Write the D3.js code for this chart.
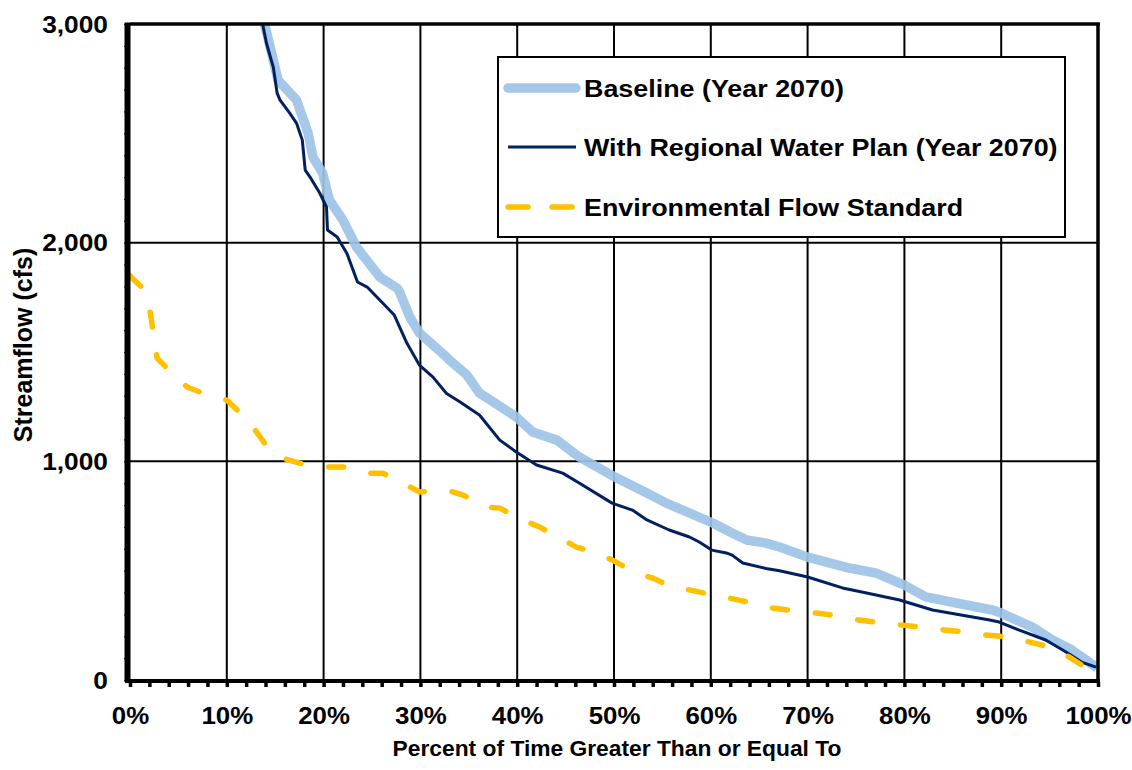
<!DOCTYPE html>
<html>
<head>
<meta charset="utf-8">
<script src="https://cdn.jsdelivr.net/npm/d3@7"></script>
<style>
  body { margin: 0; background: #fff; }
  text { font-family: "Liberation Sans", Arial, sans-serif; font-weight: bold; fill: #000; }
</style>
</head>
<body>
<svg id="chart" width="1132" height="770"></svg>
<script>
// Flow duration curves: percent of time flow is equalled or exceeded vs. streamflow (cfs)
const baselinePct = [13.9, 15.3, 17.2, 18.4, 18.9, 19.9, 20.6, 22.0, 23.4, 25.8, 27.6, 27.9, 28.9, 29.9, 32.7, 33.0, 34.8, 36.1, 39.9, 41.6, 44.1, 46.4, 50.1, 53.4, 55.4, 60.2, 62.2, 63.7, 65.7, 67.1, 70.0, 74.3, 77.1, 80.0, 82.2, 86.4, 89.1, 90.0, 93.2, 95.3, 97.3, 98.8, 99.9];
const baselineCfs = [3000, 2743, 2652, 2501, 2391, 2318, 2195, 2103, 1980, 1843, 1792, 1770, 1660, 1587, 1477, 1463, 1395, 1312, 1203, 1134, 1097, 1020, 928, 855, 809, 718, 672, 640, 626, 608, 562, 512, 489, 434, 380, 343, 320, 306, 242, 183, 137, 91, 55];

const planPct = [13.7, 14.1, 14.8, 15.2, 15.5, 16.5, 17.2, 17.8, 18.1, 18.6, 19.6, 20.3, 20.4, 21.4, 22.4, 23.5, 24.5, 26.5, 27.3, 28.6, 29.9, 31.3, 32.7, 34.1, 36.1, 38.2, 39.9, 42.0, 44.7, 46.4, 49.8, 51.9, 53.4, 55.7, 57.8, 58.8, 60.1, 61.6, 62.2, 63.3, 65.7, 67.1, 70.0, 73.6, 76.1, 79.5, 82.9, 88.8, 89.8, 91.8, 94.6, 96.7, 98.3, 99.8];
const planCfs = [3000, 2912, 2803, 2684, 2652, 2592, 2547, 2469, 2332, 2300, 2227, 2163, 2058, 2026, 1952, 1820, 1797, 1706, 1669, 1541, 1440, 1385, 1310, 1271, 1212, 1097, 1043, 983, 946, 901, 809, 777, 732, 686, 654, 631, 594, 581, 571, 535, 510, 500, 471, 421, 398, 366, 320, 274, 265, 229, 183, 128, 82, 59];

const envPct = [0, 0.2, 1.2, 2.1, 2.4, 2.8, 3.8, 5.9, 7.5, 10.0, 11.4, 12.7, 13.9, 15.7, 17.5, 19.9, 22.0, 24.5, 26.1, 28.2, 29.9, 32.7, 34.4, 36.8, 38.2, 40.6, 42.3, 44.4, 46.1, 48.2, 49.8, 52.3, 54.0, 56.0, 57.8, 60.2, 61.9, 64.3, 66.4, 68.8, 70.9, 73.3, 75.3, 77.6, 79.8, 81.8, 84.1, 86.4, 88.4, 90.8, 92.9, 95.0, 96.7, 98.8, 99.9];
const envCfs = [1850, 1838, 1797, 1678, 1591, 1472, 1427, 1340, 1312, 1280, 1221, 1157, 1084, 1015, 992, 974, 974, 946, 946, 901, 860, 869, 846, 791, 786, 732, 700, 649, 608, 581, 549, 489, 466, 425, 412, 389, 375, 352, 329, 315, 306, 293, 274, 261, 251, 242, 229, 219, 206, 197, 174, 151, 114, 55, 23];

const xTicks = [0, 10, 20, 30, 40, 50, 60, 70, 80, 90, 100];
const yTicks = [0, 1000, 2000, 3000];

const seriesNames = ["Baseline (Year 2070)", "With Regional Water Plan (Year 2070)", "Environmental Flow Standard"];
const xTitle = "Percent of Time Greater Than or Equal To";
const yTitle = "Streamflow (cfs)";

const svg = d3.select("#chart");
const L = 130, R = 1098, T = 24, B = 680;

const x = d3.scaleLinear().domain([0, 100]).range([L, R]);
const y = d3.scaleLinear().domain([0, 3000]).range([B, T]);

const BLUE = "#9DC3E6", NAVY = "#002060", GOLD = "#FFC000";

// clip region for the curves
svg.append("defs").append("clipPath").attr("id", "plot-clip")
  .append("rect").attr("x", L).attr("y", T).attr("width", R - L).attr("height", B - T);

// gridlines
const grid = svg.append("g");
grid.selectAll("line.v").data(xTicks.slice(1, -1)).join("line")
  .attr("x1", d => x(d)).attr("x2", d => x(d)).attr("y1", T).attr("y2", B)
  .attr("stroke", "#000").attr("stroke-width", 2);
grid.selectAll("line.h").data(yTicks.slice(1, -1)).join("line")
  .attr("x1", L).attr("x2", R).attr("y1", d => y(d)).attr("y2", d => y(d))
  .attr("stroke", "#000").attr("stroke-width", 2);

// curves
const toPts = (px, py) => px.map((p, i) => [p, py[i]]);
const line = d3.line().x(d => x(d[0])).y(d => y(d[1]));
const curves = svg.append("g").attr("clip-path", "url(#plot-clip)");

curves.append("path").datum(toPts(baselinePct, baselineCfs))
  .attr("d", line).attr("fill", "none")
  .attr("stroke", BLUE).attr("stroke-opacity", 0.92)
  .attr("stroke-width", 9.5).attr("stroke-linejoin", "round");

curves.append("path").datum(toPts(planPct, planCfs))
  .attr("d", line).attr("fill", "none")
  .attr("stroke", NAVY).attr("stroke-width", 3).attr("stroke-linejoin", "round");

curves.append("path").datum(toPts(envPct, envCfs))
  .attr("d", line).attr("fill", "none")
  .attr("stroke", GOLD).attr("stroke-width", 5.5)
  .attr("stroke-linecap", "round").attr("stroke-dasharray", "15 28");

// frame: top and right border
svg.append("line").attr("x1", L).attr("x2", R + 2).attr("y1", T).attr("y2", T)
  .attr("stroke", "#000").attr("stroke-width", 3.5);
svg.append("line").attr("x1", R).attr("x2", R).attr("y1", T).attr("y2", B)
  .attr("stroke", "#000").attr("stroke-width", 3.5);

// y axis with minor ticks
const yMinor = d3.range(0, 3001, 100);
const yAxis = svg.append("g").attr("transform", `translate(${L - 2},0)`)
  .call(d3.axisLeft(y).tickValues(yMinor).tickSize(4).tickFormat(""));
yAxis.select(".domain").remove();
yAxis.selectAll(".tick line").attr("stroke", "#333").attr("stroke-width", 1.2);
svg.append("line").attr("x1", L - 2.5).attr("x2", L - 2.5).attr("y1", T - 1.5).attr("y2", B + 2)
  .attr("stroke", "#000").attr("stroke-width", 6);

const yLabels = svg.append("g").attr("transform", `translate(${L - 22},0)`)
  .call(d3.axisLeft(y).tickValues(yTicks).tickSize(0).tickPadding(0).tickFormat(d3.format(",")));
yLabels.select(".domain").remove();
yLabels.selectAll("text").attr("font-size", 23.5).attr("x", 0).attr("dy", "0.35em")
  .attr("transform", "scale(1.12,1)");

// x axis with minor ticks
const xMinor = d3.range(0, 101, 2);
const xAxis = svg.append("g").attr("transform", `translate(0,${B + 2})`)
  .call(d3.axisBottom(x).tickValues(xMinor).tickSize(5).tickFormat(""));
xAxis.select(".domain").remove();
xAxis.selectAll(".tick line").attr("stroke", "#000").attr("stroke-width", 3.5);
svg.append("line").attr("x1", L - 5).attr("x2", R + 2).attr("y1", B + 1).attr("y2", B + 1)
  .attr("stroke", "#000").attr("stroke-width", 4);

const xLabels = svg.append("g").attr("transform", `translate(0,${B})`)
  .call(d3.axisBottom(x).tickValues(xTicks).tickSize(0).tickPadding(0).tickFormat(d => d + "%"));
xLabels.select(".domain").remove();
xLabels.selectAll("text").attr("font-size", 23.5).attr("dy", null).attr("y", 44)
  .attr("transform", "scale(1.1,1)");

// axis titles
svg.append("text").attr("x", (L + R) / 2 + 3).attr("y", 756)
  .attr("text-anchor", "middle").attr("font-size", 22.8).text(xTitle);
svg.append("text").attr("transform", `translate(32,345) rotate(-90)`)
  .attr("text-anchor", "middle").attr("font-size", 25).text(yTitle);

// legend
const lg = svg.append("g");
lg.append("rect").attr("x", 498).attr("y", 57).attr("width", 567).attr("height", 180)
  .attr("fill", "#fff").attr("stroke", "#000").attr("stroke-width", 2);
const legendRows = [
  { name: seriesNames[0], y: 88, stroke: BLUE, width: 9.5, dash: null, cap: "round", op: 0.92 },
  { name: seriesNames[1], y: 147, stroke: NAVY, width: 3, dash: null, cap: "butt", op: 1 },
  { name: seriesNames[2], y: 207, stroke: GOLD, width: 5.5, dash: "20 24", cap: "round", op: 1 }
];
const rows = lg.selectAll("g.row").data(legendRows).join("g");
rows.append("line").attr("x1", 508).attr("x2", 576).attr("y1", d => d.y).attr("y2", d => d.y)
  .attr("stroke", d => d.stroke).attr("stroke-width", d => d.width)
  .attr("stroke-opacity", d => d.op)
  .attr("stroke-linecap", d => d.cap).attr("stroke-dasharray", d => d.dash);
rows.append("text").attr("transform", d => `translate(584,${d.y}) scale(1.12,1)`)
  .attr("dy", "0.36em").attr("font-size", 24).text(d => d.name);
</script>
</body>
</html>
